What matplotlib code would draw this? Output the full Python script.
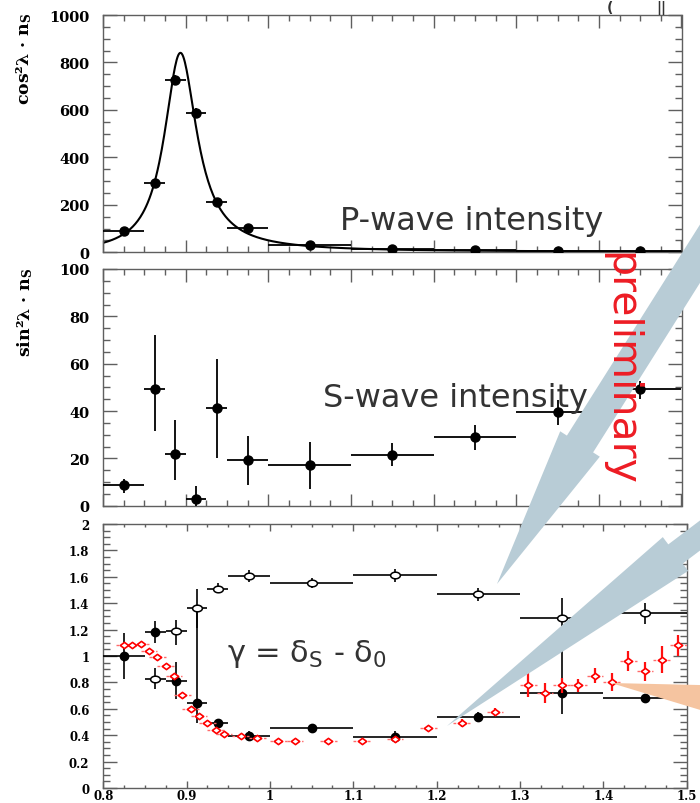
import numpy as np
import matplotlib
matplotlib.use("Agg")
import matplotlib.pyplot as plt
from matplotlib.path import Path
from matplotlib.patches import Polygon
from matplotlib.ticker import MultipleLocator, FuncFormatter

plt.rcParams['mathtext.fontset'] = 'dejavuserif'

# ---------------- data ----------------
# common binning (bin centres / half widths)
bin_x = [0.825, 0.8625, 0.8875, 0.9125, 0.9375, 0.975, 1.05, 1.15, 1.25, 1.35, 1.45]
bin_hw = [0.025, 0.0125, 0.0125, 0.0125, 0.0125, 0.025, 0.05, 0.05, 0.05, 0.05, 0.05]

# panel 1: P-wave intensity
p_y = [88, 293, 727, 588, 210, 104, 31, 13, 10, 7, 6]
p_yerr = [6, 12, 20, 18, 10, 6, 3, 2, 2, 2, 2]
# Breit-Wigner fit parameters (K*(892))
bw_m0 = 0.893
bw_gamma = 0.048
bw_peak = 840.0

# panel 2: S-wave intensity
s_y = [8.6, 49.2, 22.0, 2.8, 41.2, 19.2, 17.0, 21.6, 29.1, 39.7, 49.2]
s_err_lo = [3.4, 17.7, 11.1, 2.8, 21.2, 10.3, 10.0, 4.9, 5.4, 5.4, 4.3]
s_err_hi = [2.7, 22.8, 14.4, 5.7, 20.8, 10.2, 9.8, 4.9, 5.2, 4.9, 3.5]

# panel 3: phase difference, solution 1 (filled)
g1_y = [1.00, 1.18, 0.814, 0.647, 0.489, 0.396, 0.453, 0.389, 0.539, 0.722, 0.679]
g1_err_lo = [0.175, 0.085, 0.14, 0.157, 0.03, 0.035, 0.03, 0.04, 0.035, 0.16, 0.03]
g1_err_hi = [0.175, 0.085, 0.14, 0.713, 0.03, 0.035, 0.03, 0.04, 0.035, 0.35, 0.03]
# solution 2 (open)
g2_x = [0.8625, 0.8875, 0.9125, 0.9375, 0.975, 1.05, 1.15, 1.25, 1.35, 1.45]
g2_hw = [0.0125, 0.0125, 0.0125, 0.0125, 0.025, 0.05, 0.05, 0.05, 0.05, 0.05]
g2_y = [0.827, 1.19, 1.361, 1.511, 1.604, 1.554, 1.61, 1.466, 1.286, 1.323]
g2_err_lo = [0.08, 0.11, 0.15, 0.035, 0.045, 0.04, 0.05, 0.05, 0.16, 0.08]
g2_err_hi = [0.08, 0.085, 0.15, 0.04, 0.045, 0.04, 0.05, 0.05, 0.155, 0.08]
# reference measurement (red diamonds)
l_x = [0.825, 0.835, 0.845, 0.855, 0.865, 0.875, 0.885, 0.895, 0.905, 0.915,
       0.925, 0.935, 0.945, 0.965, 0.985, 1.01, 1.03, 1.07, 1.11, 1.15,
       1.19, 1.23, 1.27, 1.31, 1.33, 1.35, 1.37, 1.39, 1.41, 1.43, 1.45, 1.47, 1.49]
l_y = [1.085, 1.085, 1.09, 1.035, 0.992, 0.922, 0.847, 0.702, 0.602, 0.546,
       0.496, 0.441, 0.408, 0.396, 0.378, 0.358, 0.358, 0.358, 0.358, 0.371,
       0.453, 0.491, 0.579, 0.784, 0.722, 0.777, 0.777, 0.852, 0.802, 0.96, 0.885, 0.972, 1.08]
l_yerr = [0.012] * 21 + [0.03, 0.03, 0.095, 0.075, 0.06, 0.05, 0.055, 0.07, 0.075, 0.072, 0.1, 0.08]
l_xerr = 0.01

# ---------------- figure ----------------
W, H = 700, 804
fig = plt.figure(figsize=(W / 100, H / 100), dpi=100)


def fx(px):
    return px / W


def fy(py):
    return 1 - py / H


def add_ax(l, t, r, b):
    return fig.add_axes([fx(l), fy(b), fx(r) - fx(l), fy(t) - fy(b)])


ax1 = add_ax(103, 16, 681.5, 253.3)
ax2 = add_ax(103, 270, 681.5, 506.7)
ax3 = add_ax(103.3, 525, 686.7, 789)

SPINE = '#5f5f5f'
SERIF = 'DejaVu Serif'


def style(ax, ymax, ymaj, ymin, bottom_panel, fmt):
    ax.set_xlim(0.8, 1.5)
    ax.set_ylim(0, ymax)
    ax.xaxis.set_major_locator(MultipleLocator(0.1))
    ax.xaxis.set_minor_locator(MultipleLocator(0.025))
    ax.yaxis.set_major_locator(MultipleLocator(ymaj))
    ax.yaxis.set_minor_locator(MultipleLocator(ymin))
    ax.tick_params(which='both', direction='in', top=True, right=True,
                   color=SPINE, width=1)
    ax.tick_params(axis='y', which='major', length=10)
    ax.tick_params(axis='y', which='minor', length=5)
    if bottom_panel:
        ax.tick_params(axis='x', which='major', length=5)
        ax.tick_params(axis='x', which='minor', length=2.5)
        ax.tick_params(axis='x', labelbottom=True, pad=0.5)
        ax.xaxis.set_major_formatter(FuncFormatter(lambda v, p: f"{v:g}"))
        size = 8.5
    else:
        ax.tick_params(axis='x', which='major', length=9)
        ax.tick_params(axis='x', which='minor', length=4.5)
        ax.tick_params(axis='x', labelbottom=False)
        size = 10.5
    ax.tick_params(axis='y', pad=10)
    ax.yaxis.set_major_formatter(FuncFormatter(fmt))
    ax.tick_params(axis='both', labelsize=size)
    for s in ax.spines.values():
        s.set_color(SPINE)
        s.set_linewidth(1)


style(ax1, 1000, 200, 50, False, lambda v, p: f"{v:.0f}")
style(ax2, 100, 20, 5, False, lambda v, p: f"{v:.0f}")
style(ax3, 2, 0.2, 0.05, True, lambda v, p: f"{round(v, 2):g}")
for ax in (ax1, ax2, ax3):
    for lab in ax.get_xticklabels() + ax.get_yticklabels():
        lab.set_fontfamily(SERIF)
        lab.set_fontweight('bold')

# ---- panel 1
def kstar_q(m):
    mk, mpi = 0.4937, 0.1396
    return np.sqrt(np.clip((m**2 - (mk + mpi)**2) * (m**2 - (mk - mpi)**2), 0, None)) / (2 * m)


def bw(m):
    g2 = (bw_gamma / 2) ** 2
    return bw_peak * kstar_q(m) / kstar_q(bw_m0) * g2 / ((m - bw_m0) ** 2 + g2)


mgrid = np.linspace(0.8, 1.5, 700)
ax1.plot(mgrid, bw(mgrid), color='black', lw=1.5, zorder=2)
ax1.errorbar(bin_x, p_y, xerr=bin_hw, yerr=p_yerr, fmt='o', color='black',
             ms=6.5, elinewidth=1.3, capsize=0, zorder=3)

# ---- panel 2
ax2.errorbar(bin_x, s_y, xerr=bin_hw, yerr=[s_err_lo, s_err_hi], fmt='o',
             color='black', ms=6.5, elinewidth=1.3, capsize=0, zorder=3)

# ---- panel 3
t = np.linspace(0, 2 * np.pi, 41)
ellipse = Path(np.c_[np.cos(t), 0.68 * np.sin(t)], closed=True)
diamond = Path([(0, -0.75), (1, 0), (0, 0.75), (-1, 0), (0, -0.75)], closed=True)

ax3.errorbar(bin_x, g1_y, xerr=bin_hw, yerr=[g1_err_lo, g1_err_hi], fmt='o',
             color='black', ms=6, elinewidth=1.2, capsize=0, zorder=3)
ax3.errorbar(g2_x, g2_y, xerr=g2_hw, yerr=[g2_err_lo, g2_err_hi], fmt='none',
             ecolor='black', elinewidth=1.2, capsize=0, zorder=3)
ax3.plot(g2_x, g2_y, ls='none', marker=ellipse, ms=7, mec='black',
         mfc='white', mew=1.1, zorder=4)
ax3.errorbar(l_x, l_y, yerr=l_yerr, fmt='none', ecolor='#ff1010',
             elinewidth=1.6, capsize=0, zorder=5)
ebx = ax3.errorbar(l_x, l_y, xerr=l_xerr, fmt='none', ecolor='#ff6a6a',
                   elinewidth=1.0, capsize=0, zorder=5)
ebx[2][0].set_linestyle((0, (2.0, 1.5)))
ax3.plot(l_x, l_y, ls='none', marker=diamond, ms=6, mec='#ff0000',
         mfc='white', mew=1.2, zorder=6)

# ---- axis titles
fig.text(fx(24), fy(12), "cos²λ · n$_\\mathbf{S}$", rotation=90, ha='center',
         va='top', fontsize=12.5, fontfamily=SERIF, fontweight='bold')
fig.text(fx(25), fy(267), "sin²λ · n$_\\mathbf{S}$", rotation=90, ha='center',
         va='top', fontsize=12.5, fontfamily=SERIF, fontweight='bold')

# ---- annotations
TXT = '#333333'
fig.text(fx(340), fy(230), "P-wave intensity", fontsize=23, color=TXT,
         fontfamily='DejaVu Sans', va='baseline', zorder=3)
fig.text(fx(323), fy(407), "S-wave intensity", fontsize=23, color=TXT,
         fontfamily='DejaVu Sans', va='baseline', zorder=3)
fig.text(fx(227), fy(662), "γ = δ$_\\mathregular{S}$ - δ$_\\mathregular{0}$",
         fontsize=22, color=TXT, fontfamily='DejaVu Sans', va='baseline', zorder=3)
# fragment of a heading at the top-right corner
fig.text(fx(607), fy(1), "(", fontsize=10, color=TXT, fontfamily='DejaVu Sans',
         va='top', fontweight='bold', zorder=3)
fig.text(fx(656), fy(1), "||", fontsize=10, color=TXT, fontfamily='DejaVu Sans',
         va='top', fontweight='bold', zorder=3)

# ---- decorative arrows (pixel geometry)
BLUE = '#b8ccd6'
PEACH = '#f5c4a0'


def poly(pts, color, z):
    xy = [(fx(x), fy(y)) for x, y in pts]
    fig.add_artist(Polygon(xy, closed=True, transform=fig.transFigure,
                           facecolor=color, edgecolor='none', zorder=z))


poly([(779.1, 158.4), (593.1, 453.4), (599.8, 457.7), (497, 585),
      (560.2, 432.3), (566.9, 436.6), (752.9, 141.6)], BLUE, 2)
poly([(762.2, 504.6), (682.7, 564.6), (688.2, 571.9), (447, 727),
      (662.8, 538.1), (668.3, 545.4), (747.8, 485.4)], BLUE, 2)
poly([(611, 684), (712, 686.3), (712, 714.5)], PEACH, 2)

fig.text(fx(620), fy(252), "preliminary", rotation=-90, color='#ed1c24',
         fontsize=29.5, fontfamily='DejaVu Sans', ha='center', va='top', zorder=4)

fig.savefig("out.png", dpi=100)
